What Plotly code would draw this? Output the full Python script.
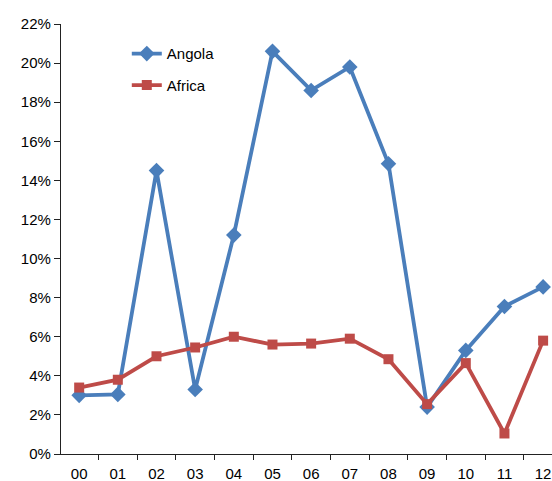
import plotly.graph_objects as go

years = ["00", "01", "02", "03", "04", "05", "06", "07", "08", "09", "10", "11", "12"]
angola = [3.0, 3.05, 14.5, 3.3, 11.2, 20.6, 18.6, 19.8, 14.85, 2.4, 5.3, 7.55, 8.55]
africa = [3.4, 3.8, 5.0, 5.45, 6.0, 5.6, 5.65, 5.9, 4.85, 2.55, 4.65, 1.05, 5.8]

ang = [v / 100 for v in angola]
afr = [v / 100 for v in africa]

BLUE = "#4A7EBB"
RED = "#BE4B48"

fig = go.Figure()
fig.add_trace(go.Scatter(x=years, y=ang, name="Angola", mode="lines+markers",
                         line=dict(color=BLUE, width=3.8),
                         marker=dict(symbol="diamond", size=12, color=BLUE),
                         legendgroup="a"))
fig.add_trace(go.Scatter(x=years, y=afr, name="Africa", mode="lines+markers",
                         line=dict(color=RED, width=3.8),
                         marker=dict(symbol="square", size=10, color=RED),
                         legendgroup="b"))

axis_font = dict(family="Liberation Sans, Arial, sans-serif", size=15, color="#000")

fig.update_layout(
    width=552, height=481,
    margin=dict(l=61, r=0, t=24, b=27, autoexpand=False),
    paper_bgcolor="white", plot_bgcolor="white",
    font=axis_font,
    showlegend=True,
    legend=dict(x=0.134, y=0.969, xanchor="left", yanchor="top",
                bgcolor="rgba(0,0,0,0)", font=dict(size=15, color="#000"),
                traceorder="grouped", tracegroupgap=9, itemwidth=30),
    xaxis=dict(type="category", range=[-0.47, 12.23], showgrid=False,
               showline=True, linecolor="#222", linewidth=1.2,
               ticks="outside", ticklen=5, tickcolor="#222", tickson="boundaries",
               tickfont=axis_font, zeroline=False, automargin=False,
               ticklabeloverflow="allow", ticklabelstandoff=6),
    yaxis=dict(range=[0, 0.22], dtick=0.02, tickformat=".0%", showgrid=False,
               showline=True, linecolor="#222", linewidth=1.2,
               ticks="outside", ticklen=6, tickcolor="#222",
               tickfont=axis_font, zeroline=False, automargin=False),
)

fig.write_html("out.html", config={"displayModeBar": False},
               post_script="document.body.style.margin='0';document.body.style.overflow='hidden';")
